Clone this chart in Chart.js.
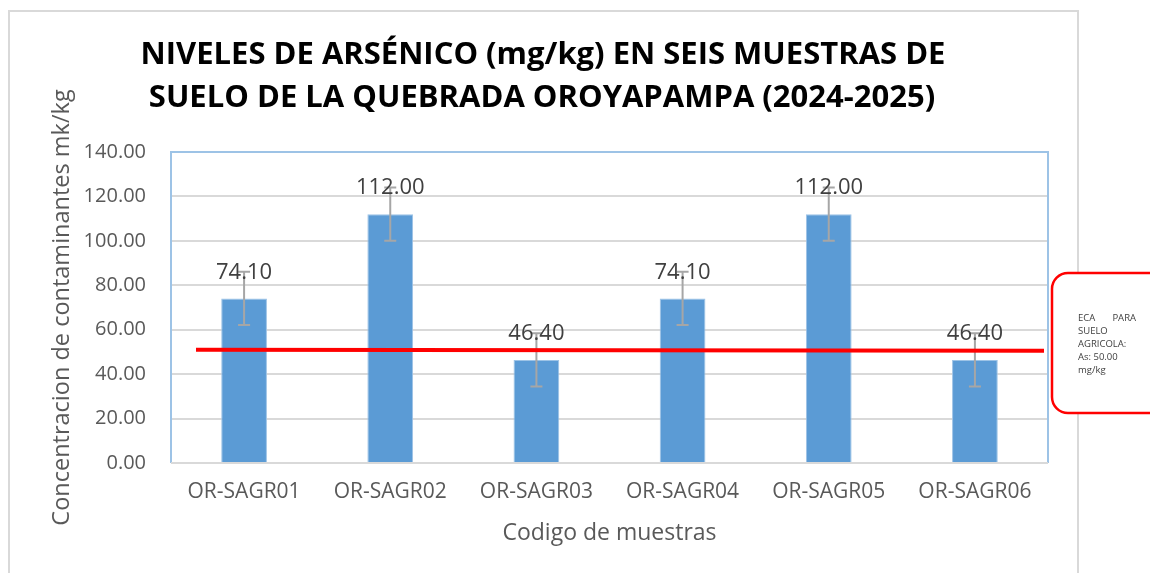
<!DOCTYPE html>
<html>
<head>
<meta charset="utf-8">
<title>Niveles de arsénico</title>
<script src="https://cdn.jsdelivr.net/npm/chart.js@4/dist/chart.umd.min.js"></script>
<style>
  html, body { margin: 0; padding: 0; background: #fff; }
  #wrap { width: 1150px; height: 573px; }
</style>
</head>
<body>
<div id="wrap"><canvas id="chart" width="1150" height="573"></canvas></div>
<script>
// datos
const categories = ['OR-SAGR01', 'OR-SAGR02', 'OR-SAGR03', 'OR-SAGR04', 'OR-SAGR05', 'OR-SAGR06'];
const arsenic = [74.10, 112.00, 46.40, 74.10, 112.00, 46.40];
const errorPlus = [12, 12, 12, 12, 12, 12];
const errorMinus = [12, 12, 12, 12, 12, 12];
const ecaLimit = 51; // la línea roja está dibujada un poco sobre 50
const yMin = 0;
const yMax = 140;
const yStep = 20;
const titleLines = ['NIVELES DE ARSÉNICO (mg/kg) EN SEIS MUESTRAS DE', 'SUELO DE LA QUEBRADA OROYAPAMPA (2024-2025)'];
const xTitle = 'Codigo de muestras';
const yTitle = 'Concentracion de contaminantes mk/kg';
const noteLines = ['ECA', 'PARA', 'SUELO', 'AGRICOLA:', 'As: 50.00', 'mg/kg'];

const FONT = "'Open Sans', 'Liberation Sans', sans-serif";

// marco exterior + título
const framePlugin = {
    id: 'frame',
    beforeDraw(chart) {
        const ctx = chart.ctx;
        ctx.save();
        ctx.fillStyle = '#fff';
        ctx.fillRect(0, 0, chart.width, chart.height);
        ctx.strokeStyle = '#d9d9d9';
        ctx.lineWidth = 2;
        ctx.strokeRect(9, 11, 1069, 600);
        ctx.fillStyle = '#000';
        ctx.font = 'bold 31px ' + FONT;
        ctx.textAlign = 'center';
        ctx.textBaseline = 'middle';
        ctx.fillText(titleLines[0], 543, 55);
        ctx.fillText(titleLines[1], 542, 98);
        ctx.restore();
    }
};

// borde azul del área de trazado
const plotBorderPlugin = {
    id: 'plotBorder',
    beforeDatasetsDraw(chart) {
        const { ctx, chartArea: a } = chart;
        ctx.save();
        ctx.strokeStyle = '#9dc3e6';
        ctx.lineWidth = 2;
        ctx.beginPath();
        ctx.moveTo(a.left, a.bottom);
        ctx.lineTo(a.left, a.top);
        ctx.lineTo(a.right, a.top);
        ctx.lineTo(a.right, a.bottom);
        ctx.stroke();
        ctx.strokeStyle = '#d9d9d9';
        ctx.beginPath();
        ctx.moveTo(a.left, a.bottom);
        ctx.lineTo(a.right, a.bottom);
        ctx.stroke();
        ctx.restore();
    }
};

// barras de error, etiquetas, línea ECA
const overlayPlugin = {
    id: 'overlay',
    afterDatasetsDraw(chart) {
        const ctx = chart.ctx;
        const y = chart.scales.y;
        const a = chart.chartArea;
        const meta = chart.getDatasetMeta(0);
        ctx.save();

        ctx.strokeStyle = '#a6a6a6';
        ctx.lineWidth = 2;
        meta.data.forEach((bar, i) => {
            const top = y.getPixelForValue(arsenic[i] + errorPlus[i]);
            const bot = y.getPixelForValue(arsenic[i] - errorMinus[i]);
            ctx.beginPath();
            ctx.moveTo(bar.x, top); ctx.lineTo(bar.x, bot);
            ctx.moveTo(bar.x - 6, top); ctx.lineTo(bar.x + 6, top);
            ctx.moveTo(bar.x - 6, bot); ctx.lineTo(bar.x + 6, bot);
            ctx.stroke();
        });

        ctx.fillStyle = '#404040';
        ctx.font = '22px ' + FONT;
        ctx.textAlign = 'center';
        ctx.textBaseline = 'middle';
        meta.data.forEach((bar, i) => {
            ctx.fillText(arsenic[i].toFixed(2), bar.x, bar.y - 26);
        });

        const ly = y.getPixelForValue(ecaLimit);
        ctx.strokeStyle = '#ff0000';
        ctx.lineWidth = 4;
        ctx.beginPath();
        ctx.moveTo(a.left + 25, ly);
        ctx.lineTo(a.right - 4, ly + 1);
        ctx.stroke();
        ctx.restore();
    },
    afterDraw(chart) {
        const ctx = chart.ctx;
        ctx.save();
        ctx.fillStyle = '#fff';
        ctx.strokeStyle = '#ff0000';
        ctx.lineWidth = 2.5;
        ctx.beginPath();
        ctx.roundRect(1052, 273, 130, 140, 16);
        ctx.fill();
        ctx.stroke();
        ctx.fillStyle = '#404040';
        ctx.font = '9.5px ' + FONT;
        ctx.textBaseline = 'middle';
        ctx.textAlign = 'left';
        ctx.fillText(noteLines[0], 1078, 318);
        ctx.textAlign = 'right';
        ctx.fillText(noteLines[1], 1136, 318);
        ctx.textAlign = 'left';
        for (let i = 2; i < noteLines.length; i++) {
            ctx.fillText(noteLines[i], 1078, 331 + (i - 2) * 13);
        }
        ctx.restore();
    }
};

new Chart(document.getElementById('chart'), {
    type: 'bar',
    data: {
        labels: categories,
        datasets: [{
            data: arsenic,
            backgroundColor: '#5b9bd5',
            borderColor: '#9dc3e6',
            borderWidth: 1,
            barPercentage: 0.313,
            categoryPercentage: 1
        }]
    },
    options: {
        responsive: false,
        devicePixelRatio: 1,
        animation: false,
        layout: { padding: { top: 152, right: 102, left: 0, bottom: 0 } },
        plugins: {
            legend: { display: false },
            tooltip: { enabled: false }
        },
        scales: {
            x: {
                grid: { display: false, drawTicks: false },
                border: { display: false },
                ticks: { color: '#595959', font: { family: FONT, size: 21 }, padding: 16, maxRotation: 0 },
                title: { display: true, text: xTitle, color: '#595959', font: { family: FONT, size: 23 }, padding: { top: 0, bottom: 26 } },
                afterFit(scale) { scale.height = 110; }
            },
            y: {
                min: yMin,
                max: yMax,
                grid: { color: '#d9d9d9', lineWidth: 2, drawTicks: false },
                border: { display: false },
                ticks: {
                    stepSize: yStep,
                    color: '#595959',
                    font: { family: FONT, size: 20 },
                    padding: 25,
                    callback: v => v.toFixed(2)
                },
                title: { display: true, text: yTitle, color: '#595959', font: { family: FONT, size: 23.5 }, padding: { top: 48, bottom: 0 } },
                afterFit(scale) { scale.width = 171; }
            }
        }
    },
    plugins: [framePlugin, plotBorderPlugin, overlayPlugin]
});
</script>
</body>
</html>
